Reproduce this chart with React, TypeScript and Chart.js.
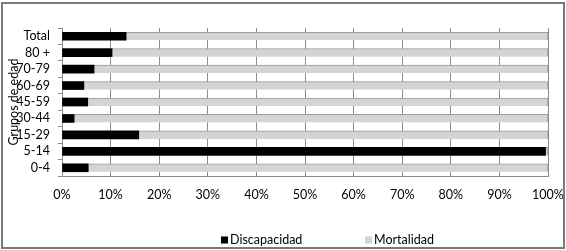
import React, { useEffect, useRef } from "react";
import { Chart, registerables } from "chart.js";

Chart.register(...registerables);

const categories = ["Total", "80 +", "70-79", "60-69", "45-59", "30-44", "15-29", "5-14", "0-4"];
const discapacidad = [13.2, 10.3, 6.6, 4.5, 5.3, 2.5, 15.8, 99.5, 5.4];
const mortalidad = [86.8, 89.7, 93.4, 95.5, 94.7, 97.5, 84.2, 0.5, 94.6];
const xTicks = [0, 10, 20, 30, 40, 50, 60, 70, 80, 90, 100];
const seriesNames = ["Discapacidad", "Mortalidad"];
const yTitle = "Grupos de edad";

const FONT = "Lato, 'Open Sans', sans-serif";

const frameAndLegend = {
  id: "frameAndLegend",
  afterDraw(chart: any) {
    const ctx = chart.ctx;
    ctx.save();
    ctx.strokeStyle = "#7a7a7a";
    ctx.lineWidth = 2;
    ctx.strokeRect(2, 3, 562, 245);
    // legend
    const xs = [221, 365];
    const y = 240;
    ctx.font = "12.5px " + FONT;
    ctx.textBaseline = "middle";
    ctx.textAlign = "left";
    chart.data.datasets.forEach((ds: any, i: number) => {
      ctx.fillStyle = ds.backgroundColor;
      ctx.fillRect(xs[i], y - 3.5, 7, 7);
      ctx.fillStyle = "#000";
      ctx.fillText(ds.label, xs[i] + 9, y);
    });
    ctx.restore();
  },
};

export default function App() {
  const ref = useRef<HTMLCanvasElement>(null);
  useEffect(() => {
    document.body.style.margin = "0";
    const chart = new Chart(ref.current!, {
      type: "bar",
      data: {
        labels: categories,
        datasets: [
          {
            label: seriesNames[0],
            data: discapacidad,
            backgroundColor: "#000000",
            borderWidth: 0,
            barThickness: 8,
          },
          {
            label: seriesNames[1],
            data: mortalidad,
            backgroundColor: "#d4d4d4",
            borderColor: "#9c9c9c",
            borderWidth: { top: 1, right: 1, bottom: 0, left: 0 },
            borderSkipped: false,
            barThickness: 8,
          },
        ],
      },
      options: {
        indexAxis: "y",
        responsive: false,
        animation: false,
        layout: { padding: { left: 0, top: 28, right: 18, bottom: 0 } },
        plugins: {
          legend: { display: false },
          tooltip: { enabled: false },
        },
        scales: {
          x: {
            stacked: true,
            min: 0,
            max: 100,
            afterBuildTicks: (s: any) => {
              s.ticks = xTicks.map((v) => ({ value: v }));
            },
            afterFit: (s: any) => {
              s.height = 74;
              s.paddingLeft = 0;
              s.paddingRight = 0;
            },
            grid: { color: "#8c8c8c", drawTicks: false },
            border: { display: true, color: "#8c8c8c" },
            ticks: {
              padding: 11,
              color: "#000",
              font: { family: FONT, size: 12.5 },
              callback: (v: any) => v + "%",
            },
          },
          y: {
            stacked: true,
            afterFit: (s: any) => {
              s.width = 62;
              s.paddingTop = 0;
              s.paddingBottom = 0;
            },
            grid: {
              drawOnChartArea: false,
              drawTicks: true,
              tickLength: 4,
              color: "#8c8c8c",
            },
            border: { display: true, color: "#8c8c8c" },
            ticks: {
              autoSkip: false,
              padding: 8,
              color: "#000",
              font: { family: FONT, size: 12.5 },
            },
            title: {
              display: true,
              text: yTitle,
              color: "#000",
              font: { family: FONT, size: 12.5 },
              padding: { top: 6, bottom: 0 },
            },
          },
        },
      },
      plugins: [frameAndLegend],
    } as any);
    return () => chart.destroy();
  }, []);
  return (
    <div style={{ position: "absolute", left: 0, top: 0, width: 566, height: 250 }}>
      <canvas ref={ref} width={566} height={250} />
    </div>
  );
}
